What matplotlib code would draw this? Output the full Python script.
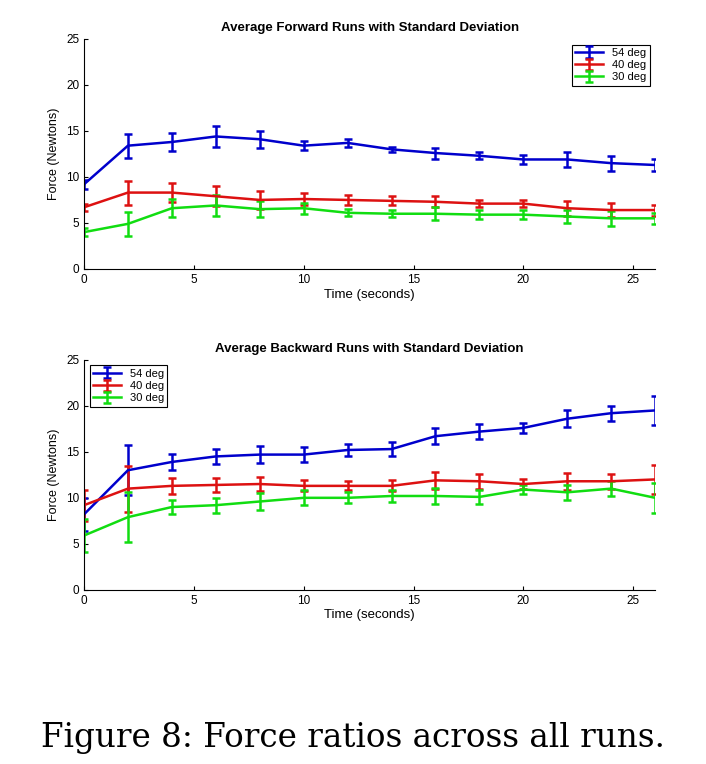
import matplotlib
matplotlib.use("Agg")
import matplotlib.pyplot as plt

t = [0, 2, 4, 6, 8, 10, 12, 14, 16, 18, 20, 22, 24, 26]
labels = ["54 deg", "40 deg", "30 deg"]
colors = ["#0000cc", "#dd1111", "#11dd11"]

fwd_mean = [
    [9.2, 13.4, 13.8, 14.4, 14.1, 13.4, 13.7, 13.0, 12.6, 12.3, 11.9, 11.9, 11.5, 11.3],
    [6.7, 8.3, 8.3, 7.9, 7.5, 7.6, 7.5, 7.4, 7.3, 7.1, 7.1, 6.6, 6.4, 6.4],
    [4.0, 4.9, 6.6, 6.9, 6.5, 6.6, 6.1, 6.0, 6.0, 5.9, 5.9, 5.7, 5.5, 5.5],
]
fwd_std = [
    [0.5, 1.3, 1.0, 1.1, 0.9, 0.5, 0.4, 0.3, 0.6, 0.4, 0.5, 0.8, 0.8, 0.6],
    [0.4, 1.3, 1.0, 1.1, 1.0, 0.6, 0.5, 0.5, 0.6, 0.4, 0.4, 0.8, 0.8, 0.6],
    [0.4, 1.3, 1.0, 1.1, 0.9, 0.6, 0.4, 0.4, 0.7, 0.5, 0.5, 0.7, 0.8, 0.6],
]
bwd_mean = [
    [8.2, 13.0, 13.9, 14.5, 14.7, 14.7, 15.2, 15.3, 16.7, 17.2, 17.6, 18.6, 19.2, 19.5],
    [9.2, 11.0, 11.3, 11.4, 11.5, 11.3, 11.3, 11.3, 11.9, 11.8, 11.5, 11.8, 11.8, 12.0],
    [5.9, 7.9, 9.0, 9.2, 9.6, 10.0, 10.0, 10.2, 10.2, 10.1, 10.9, 10.6, 11.0, 10.0],
]
bwd_std = [
    [1.8, 2.7, 0.9, 0.8, 0.9, 0.8, 0.6, 0.8, 0.9, 0.8, 0.5, 0.9, 0.8, 1.6],
    [1.7, 2.5, 0.9, 0.8, 0.8, 0.6, 0.5, 0.6, 0.9, 0.8, 0.5, 0.9, 0.8, 1.6],
    [1.8, 2.7, 0.8, 0.8, 0.9, 0.8, 0.6, 0.7, 0.9, 0.8, 0.5, 0.8, 0.8, 1.6],
]

plt.rcParams['font.family'] = ['Liberation Sans', 'DejaVu Sans']
fig = plt.figure(figsize=(7.06, 7.64), dpi=100)
ax1 = fig.add_axes([0.119, 0.648, 0.809, 0.301])
ax2 = fig.add_axes([0.119, 0.228, 0.809, 0.301])

def draw(ax, means, stds, title, loc):
    for m, s, c, l in zip(means, stds, colors, labels):
        ax.errorbar(t, m, yerr=s, color=c, lw=1.8, elinewidth=1.8, capsize=3, capthick=1.8, label=l)
    ax.set_xlim(0, 26)
    ax.set_ylim(0, 25)
    ax.set_xticks([0, 5, 10, 15, 20, 25])
    ax.set_yticks([0, 5, 10, 15, 20, 25])
    ax.tick_params(direction='in', labelsize=8.5, length=3)
    ax.set_xlabel("Time (seconds)", fontsize=9.5, labelpad=2)
    ax.set_ylabel("Force (Newtons)", fontsize=9, labelpad=4)
    ax.set_title(title, fontsize=9.5, fontweight='bold')
    for sp in ['top', 'right']:
        ax.spines[sp].set_visible(False)
    leg = ax.legend(loc=loc, fontsize=8, fancybox=False, edgecolor='black', framealpha=1,
                    handlelength=2.5, borderpad=0.3, labelspacing=0.2)
    leg.get_frame().set_linewidth(0.8)

draw(ax1, fwd_mean, fwd_std, "Average Forward Runs with Standard Deviation", "upper right")
draw(ax2, bwd_mean, bwd_std, "Average Backward Runs with Standard Deviation", "upper left")

fig.text(0.5, 0.034, "Figure 8: Force ratios across all runs.", ha='center', va='center',
         fontsize=23.5, family=['DejaVu Serif'])
fig.savefig("out.png", dpi=100, facecolor='white')
